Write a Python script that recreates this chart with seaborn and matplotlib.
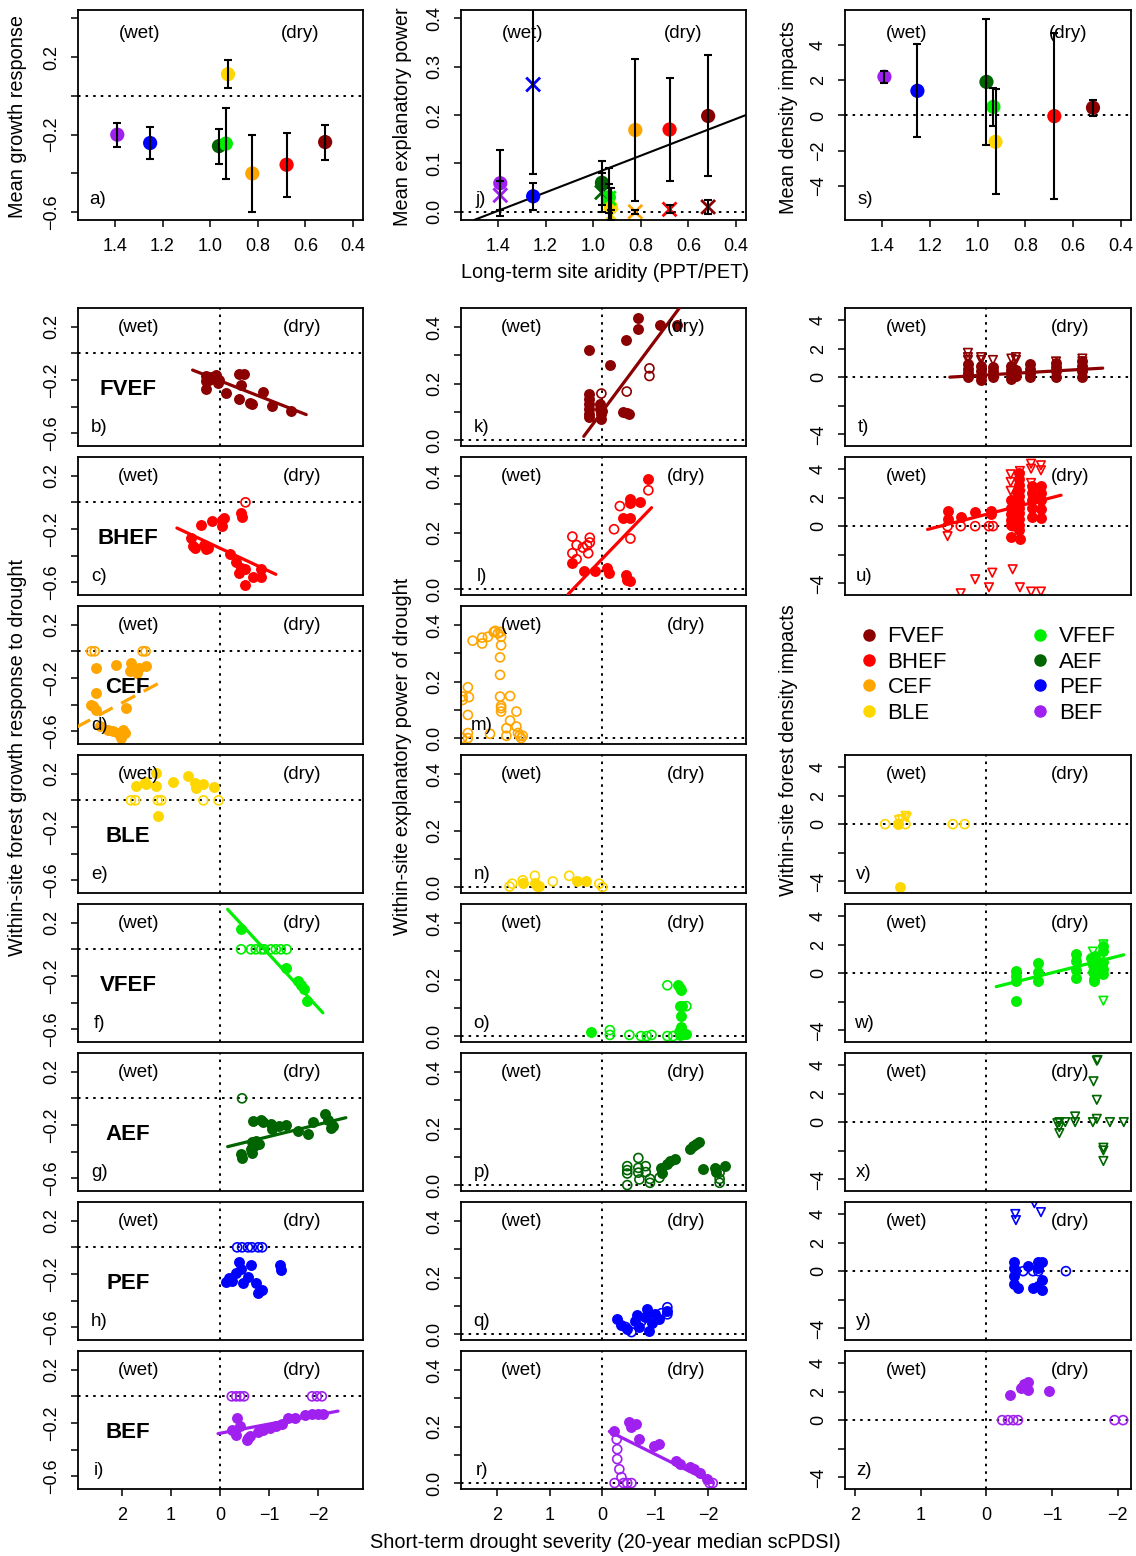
import numpy as np
import pandas as pd
import seaborn as sns
import matplotlib.pyplot as plt
from matplotlib.lines import Line2D

# --- style ---
sns.set_style("ticks")
plt.rcParams["font.family"] = ["Liberation Sans", "DejaVu Sans"]
plt.rcParams.update({
    "axes.edgecolor": "black", "axes.linewidth": 1.3,
    "xtick.color": "black", "ytick.color": "black",
    "xtick.major.size": 5, "ytick.major.size": 5,
    "xtick.major.width": 1.1, "ytick.major.width": 1.1,
    "xtick.labelsize": 13, "ytick.labelsize": 13,
    "text.color": "black", "axes.labelcolor": "black",
})

# --- forest types ---
forests = ["FVEF", "BHEF", "CEF", "BLE", "VFEF", "AEF", "PEF", "BEF"]
colors = ["#8B0000", "#FF0000", "#FFA500", "#FFD700", "#00EE00", "#006400", "#0000FF", "#A020F0"]

# --- top row: site means vs long-term aridity ---
aridity = [0.517, 0.679, 0.823, 0.925, 0.934, 0.963, 1.252, 1.39]
growth_mean = [-0.238, -0.355, -0.40, 0.112, -0.246, -0.259, -0.243, -0.20]
growth_err = [0.09, 0.164, 0.20, 0.072, 0.185, 0.09, 0.081, 0.062]
power_mean = [0.198, 0.17, 0.169, 0.01, 0.03, 0.06, 0.032, 0.059]
power_err = [0.125, 0.106, 0.147, 0.04, 0.06, 0.045, 0.028, 0.068]
power_x = [0.01, 0.005, 0.0, -0.007, 0.028, 0.04, 0.263, 0.034]
power_x_err = [0.014, 0.008, 0.004, 0.01, 0.03, 0.04, 0.185, 0.03]
power_fit = (0.268, -0.19)  # intercept, slope
density_mean = [0.44, -0.04, np.nan, -1.5, 0.49, 1.91, 1.4, 2.2]
density_err = [0.45, 4.72, np.nan, 2.98, 1.09, 3.57, 2.65, 0.33]

# --- column 1: growth response vs scPDSI ---
b_fx = [0.29, 0.29, 0.29, 0.18, 0.08, 0.03, 0.05, -0.12, -0.39, -0.48, -0.43, -0.39, -0.65, -0.87, -1.06, -1.45, 0.22, -0.62]
b_fy = [-0.17, -0.21, -0.27, -0.18, -0.16, -0.20, -0.225, -0.30, -0.155, -0.155, -0.24, -0.345, -0.38, -0.29, -0.395, -0.43, -0.20, -0.37]
b_fit = (0.56, -1.76, -0.206, 0.144)

c_fx = [0.39, 0.16, -0.05, -0.09, -0.04, -0.43, -0.45, 0.59, 0.56, 0.52, 0.32, 0.29, 0.25, -0.20, -0.33, -0.39, -0.43, -0.52, -0.67, -0.84, -0.84, -0.51]
c_fy = [-0.17, -0.14, -0.13, -0.12, -0.18, -0.08, -0.11, -0.27, -0.33, -0.34, -0.32, -0.35, -0.34, -0.39, -0.45, -0.53, -0.49, -0.50, -0.56, -0.50, -0.56, -0.62]
c_hx = [-0.52]
c_hy = [0.0]
c_fit = (0.88, -1.14, -0.344, 0.172)

d_fx = [2.54, 2.12, 1.82, 1.84, 1.75, 1.65, 1.52, 1.70, 2.54, 2.63, 2.60, 2.54, 1.92, 2.46, 2.29, 2.19, 2.09, 1.99, 1.95, 2.02, 2.05]
d_fy = [-0.125, -0.105, -0.09, -0.15, -0.14, -0.125, -0.11, -0.16, -0.31, -0.40, -0.41, -0.44, -0.425, -0.56, -0.59, -0.60, -0.61, -0.59, -0.61, -0.65, -0.625]
d_hx = [2.63, 2.56, 1.58, 1.52]
d_hy = [0.0, 0.0, 0.0, 0.0]
d_fit = (2.94, 1.24, 0.006, -0.196)

e_fx = [1.71, 1.54, 1.52, 1.31, 1.31, 0.97, 0.66, 0.52, 0.50, 0.34, 0.12, 1.26]
e_fy = [0.11, 0.14, 0.12, 0.205, 0.105, 0.135, 0.18, 0.13, 0.09, 0.12, 0.10, -0.12]
e_hx = [1.82, 1.73, 1.27, 1.20, 0.34, 0.03]
e_hy = [0.0, 0.0, 0.0, 0.0, 0.0, 0.0]

f_fx = [-0.43, -1.35, -1.60, -1.65, -1.72, -1.77]
f_fy = [0.15, -0.14, -0.235, -0.27, -0.30, -0.39]
f_hx = [-0.43, -0.63, -0.73, -0.84, -0.90, -1.04, -1.14, -1.24, -1.36]
f_hy = [0.0, 0.0, 0.0, 0.0, 0.0, 0.0, 0.0, 0.0, 0.0]
f_fit = (-0.156, -2.1, 0.362, 0.399)

g_fx = [-0.43, -0.45, -0.63, -0.65, -0.70, -0.73, -0.79, -0.67, -0.84, -0.87, -1.04, -1.07, -1.21, -1.35, -1.60, -1.79, -1.89, -2.15, -2.20, -2.27, -2.30, -0.65]
g_fy = [-0.42, -0.445, -0.38, -0.33, -0.36, -0.32, -0.345, -0.17, -0.16, -0.18, -0.19, -0.23, -0.21, -0.20, -0.245, -0.27, -0.18, -0.12, -0.16, -0.22, -0.21, -0.41]
g_hx = [-0.45]
g_hy = [0.0]
g_fit = (-0.156, -2.57, -0.3765, -0.09)

h_fx = [-0.18, -0.33, -0.43, -0.47, -0.57, -0.73, -0.86, -0.78, -0.24, -1.22, -1.24, -0.12, -0.39, -0.63]
h_fy = [-0.23, -0.19, -0.16, -0.27, -0.22, -0.27, -0.32, -0.34, -0.25, -0.135, -0.17, -0.26, -0.11, -0.135]
h_hx = [-0.35, -0.45, -0.57, -0.65, -0.78, -0.86]
h_hy = [0.0, 0.0, 0.0, 0.0, 0.0, 0.0]

i_fx = [-0.35, -0.41, -0.24, -0.33, -0.55, -0.61, -0.88, -1.02, -1.27, -1.39, -1.53, -1.73, -1.88, -2.00, -2.10, -0.57, -0.78, -1.14]
i_fy = [-0.165, -0.22, -0.255, -0.29, -0.33, -0.30, -0.255, -0.24, -0.21, -0.165, -0.165, -0.14, -0.135, -0.13, -0.135, -0.315, -0.27, -0.225]
i_hx = [-0.24, -0.33, -0.41, -0.49, -1.88, -1.98, -2.08]
i_hy = [0.0, 0.0, 0.0, 0.0, 0.0, 0.0, 0.0]
i_fit = (0.04, -2.41, -0.277, -0.069)

# --- column 2: explanatory power vs scPDSI ---
k_fx = [0.25, 0.25, 0.25, 0.25, 0.25, 0.25, 0.25, 0.05, 0.04, 0.02, 0.02, 0.00, -0.15, -0.44, -0.68, -0.68, -1.09, -0.38, -0.46, -0.51, -1.42]
k_fy = [0.32, 0.162, 0.145, 0.127, 0.109, 0.092, 0.08, 0.127, 0.109, 0.092, 0.074, 0.104, 0.265, 0.356, 0.433, 0.394, 0.406, 0.10, 0.095, 0.093, 0.406]
k_hx = [0.02, -0.46, -0.89, -0.89]
k_hy = [0.165, 0.172, 0.254, 0.227]
k_fit = (0.354, -1.456, 0.102, -0.251)

l_fx = [0.57, 0.35, 0.15, -0.08, -0.13, -0.44, -0.47, -0.53, -0.39, -0.53, -0.53, -0.53, -0.71, -0.87]
l_fy = [0.094, 0.065, 0.065, 0.076, 0.056, 0.049, 0.033, 0.029, 0.253, 0.253, 0.304, 0.32, 0.308, 0.39]
l_hx = [0.57, 0.49, 0.57, 0.49, 0.37, 0.29, 0.24, 0.24, 0.27, -0.22, -0.33, -0.53, -0.87]
l_hy = [0.186, 0.156, 0.127, 0.106, 0.147, 0.155, 0.165, 0.182, 0.127, 0.212, 0.294, 0.179, 0.35]
l_fit = (0.65, -0.93, 0.108, -0.194)

m_hx = [2.46, 2.28, 2.28, 2.17, 2.06, 2.03, 1.98, 1.93, 1.92, 1.92, 1.94, 1.94, 1.94, 1.92, 1.92, 1.92, 1.75, 1.63,
        1.75, 1.82, 1.63, 2.65, 2.65, 2.55, 2.53, 2.55, 2.55, 2.55, 2.13, 1.82, 1.60, 1.57, 1.51, 1.54, 2.66]
m_hy = [0.345, 0.356, 0.335, 0.359, 0.376, 0.38, 0.371, 0.376, 0.359, 0.329, 0.286, 0.224, 0.147, 0.114, 0.106, 0.094, 0.149, 0.094,
        0.062, 0.035, 0.041, 0.147, 0.135, 0.18, 0.145, 0.082, 0.018, 0.0, 0.015, 0.008, 0.018, 0.008, 0.008, 0.0, 0.0]

n_fx = [1.51, 1.28, 1.24, 1.20, 0.49, 0.32]
n_fy = [0.014, 0.014, 0.005, 0.005, 0.02, 0.02]
n_hx = [1.76, 1.71, 1.51, 1.28, 0.94, 0.63, 0.06, 0.0]
n_hy = [0.002, 0.012, 0.024, 0.04, 0.02, 0.04, 0.012, 0.0]

o_fx = [0.21, -1.44, -1.46, -1.48, -1.46, -1.50, -1.48, -1.48, -1.48, -1.52, -1.46, -1.58]
o_fy = [0.015, 0.18, 0.172, 0.162, 0.106, 0.106, 0.071, 0.031, 0.021, 0.007, 0.004, 0.007]
o_hx = [-0.14, -0.14, -0.51, -0.73, -0.84, -0.93, -1.23, -1.34, -1.23, -1.59, -1.46]
o_hy = [0.021, 0.004, 0.004, 0.0, 0.0, 0.004, 0.0, 0.0, 0.18, 0.106, 0.015]

p_fx = [-1.10, -1.12, -1.22, -1.28, -1.37, -1.65, -1.72, -1.82, -1.91, -2.13, -2.16, -2.32, -1.78]
p_fy = [0.061, 0.044, 0.073, 0.085, 0.093, 0.128, 0.138, 0.152, 0.058, 0.061, 0.046, 0.067, 0.144]
p_hx = [-0.47, -0.47, -0.47, -0.47, -0.68, -0.68, -0.68, -0.70, -0.82, -0.82, -0.90, -0.90, -1.08, -2.22, -2.22, -2.22]
p_hy = [0.067, 0.053, 0.041, 0.0, 0.096, 0.061, 0.044, 0.02, 0.067, 0.046, 0.022, 0.008, 0.026, 0.022, 0.008, 0.044]

q_fx = [-0.28, -0.36, -0.47, -0.61, -0.70, -0.80, -0.85, -0.93, -0.99, -1.08, -1.23, -0.66, -0.89]
q_fy = [0.053, 0.032, 0.018, 0.046, 0.025, 0.06, 0.088, 0.039, 0.07, 0.053, 0.081, 0.067, 0.011]
q_hx = [-0.44, -0.55, -0.74, -1.12, -1.23, -1.23, -0.99]
q_hy = [0.025, 0.007, 0.046, 0.074, 0.095, 0.07, 0.06]

r_fx = [-0.21, -0.51, -0.55, -0.63, -0.70, -0.97, -1.08, -1.39, -1.46, -1.65, -1.73, -1.84, -1.99]
r_fy = [0.183, 0.218, 0.197, 0.208, 0.155, 0.13, 0.137, 0.077, 0.067, 0.056, 0.049, 0.035, 0.014]
r_hx = [-0.27, -0.28, -0.32, -0.36, -0.40, -0.47, -0.23, -0.55, -0.28, -2.03, -2.09]
r_hy = [0.155, 0.085, 0.049, 0.021, 0.0, 0.0, 0.0, 0.0, 0.12, 0.0, 0.0]
r_fit = (-0.13, -2.1, 0.195, 0.093)

# --- column 3: density impacts vs scPDSI ---
t_fx = [0.28, 0.28, 0.28, 0.28, 0.08, 0.08, 0.08, 0.08, -0.10, -0.10, -0.10, -0.38, -0.38, -0.38, -0.38,
        -0.45, -0.45, -0.66, -0.66, -0.66, -0.66, -1.06, -1.06, -1.06, -1.06, -1.46, -1.46, -1.46, -1.46]
t_fy = [0.0, 0.3, 0.6, 0.9, -0.2, 0.1, 0.4, 0.8, 0.0, 0.4, 0.7, -0.1, 0.2, 0.5, 0.8,
        0.1, 0.5, 0.0, 0.3, 0.6, 0.9, 0.0, 0.4, 0.7, 1.0, 0.0, 0.4, 0.8, 1.1]
t_tx = [0.28, 0.28, 0.28, 0.08, 0.08, -0.10, -0.38, -0.45, -0.45, -1.06, -1.46, -1.46]
t_ty = [1.7, 1.4, 1.2, 1.4, 1.2, 1.2, 1.3, 1.4, 1.2, 1.1, 1.3, 1.1]
t_fit = (0.556, -1.77, 0.151, -0.271)

u_fx = [0.59, 0.59, 0.39, 0.17, -0.07, -0.07,
        -0.37, -0.37, -0.37, -0.37, -0.37, -0.38, -0.51,
        -0.50, -0.50, -0.50, -0.50, -0.50, -0.50, -0.50, -0.50, -0.50, -0.50, -0.50,
        -0.47, -0.47, -0.47,
        -0.70, -0.70, -0.70, -0.70, -0.70,
        -0.83, -0.83, -0.83, -0.83, -0.83]
u_fy = [1.07, 0.53, 0.65, 1.00, 0.88, 1.05,
        1.81, 1.30, 0.88, 0.42, 0.10, -0.74, -0.93,
        3.70, 3.30, 2.90, 2.50, 2.10, 1.70, 1.30, 0.90, 0.50, 0.10, -0.30,
        2.40, 1.40, 0.40,
        2.80, 2.30, 1.80, 1.30, 0.65,
        2.80, 2.30, 1.80, 1.20, 0.60]
u_hx = [0.59, 0.39, 0.17, -0.04, -0.10, -0.40]
u_hy = [0.0, 0.0, 0.0, 0.0, 0.0, 0.0]
u_tx = [0.59, 0.39, 0.17, -0.04, -0.09, -0.40, -0.51, -0.68, -0.83, -0.37, -0.37, -0.37, -0.51, -0.51,
        -0.68, -0.68, -0.83, -0.83, -0.52, -0.68, -0.83, -0.71]
u_ty = [-0.70, -4.70, -3.72, -4.28, -3.26, -3.02, -4.28, -4.58, -4.58, 3.63, 3.09, 2.47, 3.86, 3.49,
        4.37, 4.02, 4.26, 3.91, 2.23, 3.02, 2.56, 1.81]
u_fit = (0.894, -1.136, 0.825, -1.18)

v_fx = [1.31, 1.34]
v_fy = [-4.37, 0.0]
v_hx = [1.54, 1.34, 1.23, 0.51, 0.33]
v_hy = [0.0, 0.0, 0.0, 0.0, 0.0]
v_tx = [1.33, 1.29, 1.23, 1.21]
v_ty = [0.28, 0.35, 0.58, 0.47]

w_fx = [-0.45, -0.45, -0.45, -0.45, -0.78, -0.78, -0.78, -1.36, -1.36, -1.36, -1.36, -1.59, -1.62, -1.62,
        -1.64, -1.64, -1.78, -1.78, -1.78, -1.78, -1.78, -1.67, -1.65]
w_fy = [0.16, -0.19, -0.53, -1.93, 0.74, 0.05, -0.53, 1.37, 0.86, 0.21, -0.35, 1.05, 0.58, 0.05,
        -0.42, -0.53, 1.91, 1.56, 0.81, 0.28, -0.07, 0.40, 1.21]
w_tx = [-1.62, -1.78, -1.78]
w_ty = [1.51, -1.93, 2.02]
w_fit = (-0.15, -2.09, -1.12, -1.149)

x_tx = [-1.11, -1.11, -1.11, -1.20, -1.35, -1.35, -1.62, -1.68, -1.68, -1.63, -1.68, -1.69, -1.78, -1.78, -1.78, -1.88, -2.09, -1.08]
x_ty = [0.0, -0.35, -0.77, 0.0, 0.0, 0.40, 0.0, 0.23, 1.56, 2.86, 4.30, 4.35, -1.79, -1.98, -2.72, 0.0, 0.0, -0.07]

y_fx = [-0.42, -0.42, -0.42, -0.42, -0.48, -0.79, -0.85, -0.79, -0.85, -0.79, -0.85, -0.64, -0.71]
y_fy = [0.63, 0.21, -0.35, -0.91, -1.19, 0.63, 0.63, 0.21, -0.63, -1.05, -1.33, 0.35, -1.19]
y_hx = [-0.45, -0.56, -0.71, -0.79, -1.21]
y_hy = [0.0, 0.0, 0.0, 0.0, 0.0]
y_tx = [-0.44, -0.45, -0.73, -0.83]
y_ty = [4.0, 3.57, 4.76, 4.13]

z_fx = [-0.36, -0.52, -0.58, -0.64, -0.64, -0.95]
z_fy = [1.75, 2.24, 2.52, 2.66, 2.10, 2.03]
z_hx = [-0.24, -0.33, -0.41, -0.48, -1.95, -2.08]
z_hy = [0.0, 0.0, 0.0, 0.0, 0.0, 0.0]

# --- figure layout (pixel boxes) ---
W, H = 1136, 1556
fig = plt.figure(figsize=(W / 100, H / 100), dpi=100)


def px_axes(left, top, width, height):
    return fig.add_axes([left / W, 1 - (top + height) / H, width / W, height / H])


col_left = [78, 461, 845]
col_width = [285, 285, 286]
row_tops = [308 + 149 * k for k in range(8)]
DOT = (0, (1.3, 2.6))
palette = dict(zip(forests, colors))
TXT = 13.5
LAB = 14.3

top_df = pd.DataFrame({
    "forest": forests, "aridity": aridity,
    "growth": growth_mean, "growth_err": growth_err,
    "power": power_mean, "power_err": power_err,
    "power_x": power_x, "power_x_err": power_x_err,
    "density": density_mean, "density_err": density_err,
}).iloc[::-1]


def style_ticks(ax, ticks, labels, axis="y"):
    if axis == "y":
        ax.set_yticks(ticks, labels)
        for lab in ax.get_yticklabels():
            lab.set_rotation(90)
            lab.set_va("center")
        ax.tick_params(axis="y", pad=8)
    else:
        ax.set_xticks(ticks, labels)
        ax.tick_params(axis="x", pad=8)


def wet_dry(ax, y=0.86, xw=0.215, xd=0.787):
    ax.text(xw, y, "(wet)", transform=ax.transAxes, ha="center", va="center", fontsize=TXT)
    ax.text(xd, y, "(dry)", transform=ax.transAxes, ha="center", va="center", fontsize=TXT)


# --- top row ---
top_xt = [1.4, 1.2, 1.0, 0.8, 0.6, 0.4]
top_xl = ["1.4", "1.2", "1.0", "0.8", "0.6", "0.4"]
top_specs = [
    ("growth", "growth_err", (-0.64, 0.443), [0.4, 0.2, 0.0, -0.2, -0.4, -0.6],
     ["", "0.2", "", "\u22120.2", "", "\u22120.6"], "a)", "Mean growth response"),
    ("power", "power_err", (-0.017, 0.417), [0.0, 0.1, 0.2, 0.3, 0.4],
     ["0.0", "0.1", "0.2", "0.3", "0.4"], "j)", "Mean explanatory power"),
    ("density", "density_err", (-5.95, 6.0), [-4, -2, 0, 2, 4],
     ["\u22124", "\u22122", "0", "2", "4"], "s)", "Mean density impacts"),
]
label_x = [18, 403, 788]
for ci, (col, ecol, ylim, yt, yl, letter, ylab) in enumerate(top_specs):
    ax = px_axes(col_left[ci], 10, col_width[ci], 210)
    ax.axhline(0, color="black", lw=1.4, ls=DOT, zorder=0)
    d = top_df.dropna(subset=[col])
    sns.scatterplot(data=d, x="aridity", y=col, hue="forest", palette=palette,
                    s=105, linewidth=0, legend=False, ax=ax, zorder=2)
    if col == "power":
        ax.axline((0, power_fit[0]), slope=power_fit[1], color="black", lw=1.5, zorder=1)
        sns.scatterplot(data=d, x="aridity", y="power_x", hue="forest", palette=palette,
                        marker="x", s=100, linewidth=2, legend=False, ax=ax, zorder=2)
        ax.errorbar(d["aridity"], d["power_x"], yerr=d["power_x_err"], fmt="none",
                    ecolor="black", elinewidth=1.5, capsize=3, capthick=1.5, zorder=3)
    ax.errorbar(d["aridity"], d[col], yerr=d[ecol], fmt="none",
                ecolor="black", elinewidth=1.5, capsize=3, capthick=1.5, zorder=3)
    ax.set_xlim(1.555, 0.358)
    ax.set_ylim(*ylim)
    style_ticks(ax, yt, yl, "y")
    style_ticks(ax, top_xt, top_xl, "x")
    ax.set_xlabel("")
    ax.set_ylabel("")
    wet_dry(ax, y=0.89, xw=0.217, xd=0.78)
    ax.text(0.07, 0.1, letter, transform=ax.transAxes, ha="center", va="center", fontsize=TXT)
    fig.text(label_x[ci] / W, 1 - 117 / H, ylab, rotation=90, ha="center", va="center", fontsize=LAB)

fig.text(605 / W, 1 - 273 / H, "Long-term site aridity (PPT/PET)", ha="center", va="center", fontsize=LAB)

# --- per-panel data tables for the 3 columns x 8 forest rows ---
col1 = [
    ("b)", b_fx, b_fy, [], [], [], [], b_fit, False),
    ("c)", c_fx, c_fy, c_hx, c_hy, [], [], c_fit, False),
    ("d)", d_fx, d_fy, d_hx, d_hy, [], [], d_fit, True),
    ("e)", e_fx, e_fy, e_hx, e_hy, [], [], None, False),
    ("f)", f_fx, f_fy, f_hx, f_hy, [], [], f_fit, False),
    ("g)", g_fx, g_fy, g_hx, g_hy, [], [], g_fit, False),
    ("h)", h_fx, h_fy, h_hx, h_hy, [], [], None, False),
    ("i)", i_fx, i_fy, i_hx, i_hy, [], [], i_fit, False),
]
col2 = [
    ("k)", k_fx, k_fy, k_hx, k_hy, [], [], k_fit, False),
    ("l)", l_fx, l_fy, l_hx, l_hy, [], [], l_fit, False),
    ("m)", [], [], m_hx, m_hy, [], [], None, False),
    ("n)", n_fx, n_fy, n_hx, n_hy, [], [], None, False),
    ("o)", o_fx, o_fy, o_hx, o_hy, [], [], None, False),
    ("p)", p_fx, p_fy, p_hx, p_hy, [], [], None, False),
    ("q)", q_fx, q_fy, q_hx, q_hy, [], [], None, False),
    ("r)", r_fx, r_fy, r_hx, r_hy, [], [], r_fit, False),
]
col3 = [
    ("t)", t_fx, t_fy, [], [], t_tx, t_ty, t_fit, False),
    ("u)", u_fx, u_fy, u_hx, u_hy, u_tx, u_ty, u_fit, False),
    None,
    ("v)", v_fx, v_fy, v_hx, v_hy, v_tx, v_ty, None, False),
    ("w)", w_fx, w_fy, [], [], w_tx, w_ty, w_fit, False),
    ("x)", [], [], [], [], x_tx, x_ty, None, False),
    ("y)", y_fx, y_fy, y_hx, y_hy, y_tx, y_ty, None, False),
    ("z)", z_fx, z_fy, z_hx, z_hy, [], [], None, False),
]

col_cfg = [
    dict(xlim=(2.9, -2.92), ylim=(-0.695, 0.34), yt=[0.2, 0.0, -0.2, -0.4, -0.6],
         yl=["0.2", "", "\u22120.2", "", "\u22120.6"], lx=0.074, wx=0.214, dx=0.786),
    dict(xlim=(2.68, -2.72), ylim=(-0.021, 0.468), yt=[0.0, 0.1, 0.2, 0.3, 0.4],
         yl=["0.0", "", "0.2", "", "0.4"], lx=0.073, wx=0.213, dx=0.79),
    dict(xlim=(2.15, -2.2), ylim=(-4.82, 4.84), yt=[-4, -2, 0, 2, 4],
         yl=["\u22124", "", "0", "2", "4"], lx=0.065, wx=0.216, dx=0.787),
]
bottom_xt = [2, 1, 0, -1, -2]
bottom_xl = ["2", "1", "0", "\u22121", "\u22122"]

for ci, panels in enumerate([col1, col2, col3]):
    cfg = col_cfg[ci]
    for ri, spec in enumerate(panels):
        if spec is None:
            continue
        letter, fx, fy, hx, hy, tx, ty, fit, dashed = spec
        c = colors[ri]
        ax = px_axes(col_left[ci], row_tops[ri], col_width[ci], 138)
        ax.axhline(0, color="black", lw=1.4, ls=DOT, zorder=0)
        ax.axvline(0, color="black", lw=1.4, ls=DOT, zorder=0)
        if len(hx):
            sns.scatterplot(x=hx, y=hy, color=c, facecolor="none", edgecolor=c,
                            s=42, linewidth=1.2, ax=ax, zorder=2)
        if len(tx):
            sns.scatterplot(x=tx, y=ty, marker="v", color=c, facecolor="none", edgecolor=c,
                            s=38, linewidth=1.2, ax=ax, zorder=2)
        if len(fx):
            sns.scatterplot(x=fx, y=fy, color=c, s=62, linewidth=0, ax=ax, zorder=2)
        if fit is not None:
            x0, x1, a, b = fit
            xs = np.array([x0, x1])
            if dashed:
                ax.plot(xs, a + b * xs, color=c, lw=2.3, dashes=(5, 3), zorder=3)
            else:
                ax.plot(xs, a + b * xs, color=c, lw=2.3, zorder=3)
        ax.set_xlim(*cfg["xlim"])
        ax.set_ylim(*cfg["ylim"])
        style_ticks(ax, cfg["yt"], cfg["yl"], "y")
        if ri == 7:
            style_ticks(ax, bottom_xt, bottom_xl, "x")
        else:
            ax.set_xticks([])
        ax.set_xlabel("")
        ax.set_ylabel("")
        wet_dry(ax, y=0.86, xw=cfg["wx"], xd=cfg["dx"])
        ax.text(cfg["lx"], 0.135, letter, transform=ax.transAxes, ha="center", va="center", fontsize=TXT)
        if ci == 0:
            ax.text(0.175, 0.41, forests[ri], transform=ax.transAxes, ha="center", va="center",
                    fontsize=16, fontweight="bold")

# legend in the empty column-3 slot
lax = px_axes(col_left[2], row_tops[2], col_width[2], 138)
lax.axis("off")
handles = [Line2D([], [], marker="o", ls="none", color=c, markersize=8) for c in colors]
lax.legend(handles, forests, loc="center", ncol=2, frameon=False, fontsize=16,
           handlelength=0.8, handletextpad=0.45, columnspacing=3.8, labelspacing=0.2)

fig.text(18 / W, 1 - 758 / H, "Within-site forest growth response to drought",
         rotation=90, ha="center", va="center", fontsize=LAB)
fig.text(403 / W, 1 - 756 / H, "Within-site explanatory power of drought",
         rotation=90, ha="center", va="center", fontsize=LAB)
fig.text(788 / W, 1 - 750 / H, "Within-site forest density impacts",
         rotation=90, ha="center", va="center", fontsize=LAB)
fig.text(605 / W, 1 - 1542 / H, "Short-term drought severity (20-year median scPDSI)",
         ha="center", va="center", fontsize=LAB)

fig.savefig("out.png", dpi=100)
